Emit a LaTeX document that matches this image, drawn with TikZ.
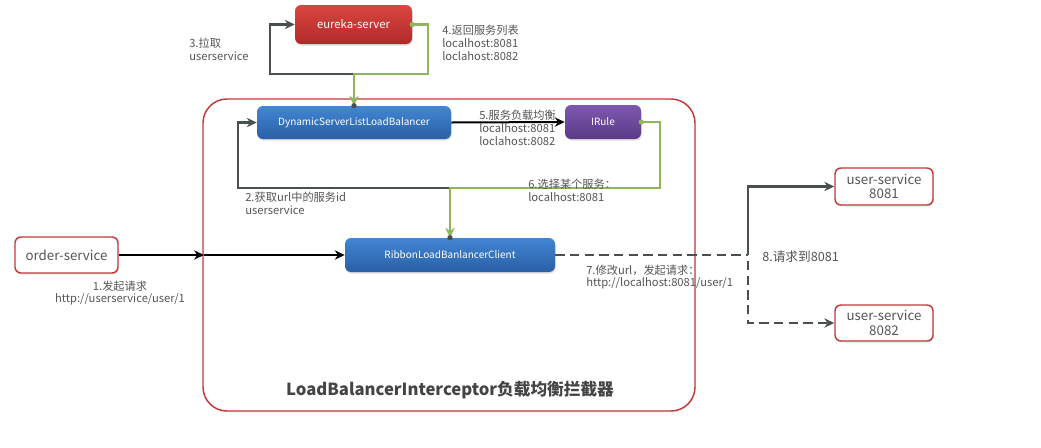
\documentclass[tikz,border=0pt]{standalone}
\usepackage{fontspec}
\setmainfont{Noto Sans CJK SC}
\usetikzlibrary{arrows.meta,shadows}
\definecolor{lbl}{HTML}{555555}
\definecolor{ttl}{HTML}{444444}
\definecolor{gline}{HTML}{4A5050}
\definecolor{grn}{HTML}{8DB85A}
\definecolor{cred}{HTML}{C0393B}
\definecolor{redT}{HTML}{D9463F}
\definecolor{redB}{HTML}{B02A2A}
\definecolor{bluT}{HTML}{4286D3}
\definecolor{bluB}{HTML}{2A5FA6}
\definecolor{purT}{HTML}{7E58AE}
\definecolor{purB}{HTML}{5B3A88}
\tikzset{
  box/.style={rounded corners=4.5pt, text=white, font=\fontsize{7.5pt}{9pt}\selectfont, inner sep=0pt,
    drop shadow={opacity=0.25, shadow xshift=0.6pt, shadow yshift=-1.2pt}},
  redbox/.style={box, top color=redT, bottom color=redB, minimum width=87.75pt, minimum height=29.25pt, font=\fontsize{8.5pt}{10pt}\selectfont},
  bluebox/.style={box, top color=bluT, bottom color=bluB},
  purplebox/.style={box, top color=purT, bottom color=purB},
  whitebox/.style={rounded corners=4.5pt, draw=cred, line width=1.1pt, fill=white, text=lbl, align=center,
    font=\fontsize{10pt}{11pt}\selectfont, inner sep=0pt,
    drop shadow={opacity=0.2, shadow xshift=0.6pt, shadow yshift=-1.2pt}},
  lab/.style={text=lbl, font=\fontsize{8.4pt}{9.6pt}\selectfont, align=left, inner sep=0pt, anchor=west},
  tip/.style={-{Stealth[length=7.5pt,width=7pt,inset=2.5pt]}},
  grayarrow/.style={draw=gline, line width=1.8pt, tip},
  greenarrow/.style={draw=grn, line width=1.8pt, tip},
  blackarrow/.style={draw=black, line width=1.5pt, tip},
  darkdash/.style={draw=gline, line width=2pt, dash pattern=on 7pt off 4pt},
  gdot/.style={circle, fill=grn, inner sep=0pt, minimum size=4pt},
  bdot/.style={circle, fill=gline, inner sep=0pt, minimum size=4pt},
}
\begin{document}
\begin{tikzpicture}[x=0.75pt,y=-0.75pt]
\useasboundingbox (0,0) rectangle (1041,447);
% container
\node[draw=cred, line width=1.1pt, rounded corners=18pt, minimum width=369pt, minimum height=234pt, inner sep=0pt,
  drop shadow={opacity=0.15, shadow xshift=0.5pt, shadow yshift=-1pt}, fill=white] (cont) at (449,255) {};
\node[text=ttl, font=\bfseries\fontsize{12.5pt}{13pt}\selectfont, inner sep=0pt] (title) at (450,390) {LoadBalancerInterceptor负载均衡拦截器};
% nodes
\node[redbox] (eur) at (353.5,24.5) {eureka-server};
\node[bluebox, minimum width=145.5pt, minimum height=24.75pt] (dyn) at (354,122.5) {DynamicServerListLoadBalancer};
\node[purplebox, minimum width=57pt, minimum height=25.5pt] (irule) at (603,122) {IRule};
\node[bluebox, minimum width=157.5pt, minimum height=25.5pt] (rib) at (450,255) {RibbonLoadBanlancerClient};
\node[whitebox, minimum width=77.25pt, minimum height=27pt] (ord) at (66.5,255) {order-service};
\node[whitebox, minimum width=73.5pt, minimum height=27.75pt] (us1) at (884,186.5) {user-service\\8081};
\node[whitebox, minimum width=73.5pt, minimum height=27pt] (us2) at (884,323) {user-service\\8082};
% coordinates
\coordinate (k1) at (270,74);
\coordinate (k2) at (428,74);
\coordinate (k3) at (238,188);
\coordinate (k4) at (660,188);
\coordinate (cb) at (204,255);
\coordinate (k5) at (748,255);
\coordinate (k6) at (748,261);
% connectors
\draw[grayarrow] (dyn.north) |- (k1) |- (eur.west);
\draw[greenarrow] (eur.east) -| (k2) -| (dyn.north);
\node[gdot] (d1) at (eur.east) {};
\node[bdot] (d2) at (dyn.north) {};
\draw[grayarrow] (rib.north) |- (k3) |- (dyn.west);
\draw[greenarrow] (irule.east) -| (k4) -| (rib.north);
\node[gdot] (d3) at (irule.east) {};
\node[bdot] (d4) at (rib.north) {};
\draw[blackarrow] (dyn.east) -- (irule.west);
\draw[blackarrow] (cb) -- (rib.west);
\draw[blackarrow] (ord.east) -- (cb);
\draw[darkdash] (rib.east) -- (k5);
\draw[grayarrow] (k5) |- (us1.west);
\draw[darkdash, tip] (k6) |- (us2.west);
% labels
\node[lab] (l3) at (189,49) {3.拉取\\userservice};
\node[lab] (l4) at (442,43) {4.返回服务列表\\localhost:8081\\loclahost:8082};
\node[lab] (l5) at (479,128) {5.服务负载均衡\\localhost:8081\\loclahost:8082};
\node[lab] (l6) at (528,190) {6.选择某个服务：\\localhost:8081};
\node[lab] (l2) at (245,203.5) {2.获取url中的服务id\\userservice};
\node[lab, anchor=center, align=center] (l1) at (120,293) {1.发起请求\\http://userservice/user/1};
\node[lab] (l7) at (586,277) {7.修改url，发起请求：\\http://localhost:8081/user/1};
\node[lab, font=\fontsize{9.5pt}{10pt}\selectfont] (l8) at (762,257) {8.请求到8081};
\end{tikzpicture}
\end{document}
